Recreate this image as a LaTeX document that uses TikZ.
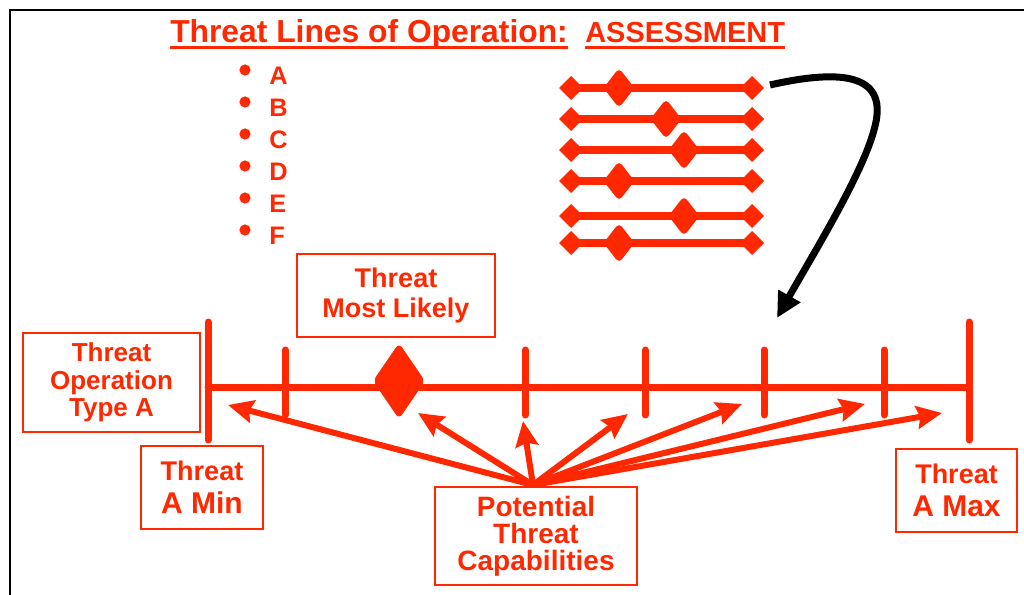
\documentclass[tikz,border=0pt]{standalone}
\usepackage{fontspec}
\setmainfont{Liberation Sans}
\usepackage{xcolor}
\usepackage{tikz}
\usetikzlibrary{arrows.meta}
\definecolor{thrred}{RGB}{255,40,0}
\newcommand{\myfnt}[2]{\bfseries\fontsize{#1}{#2}\selectfont}

\begin{document}
\begin{tikzpicture}[x=0.75pt,y=-0.75pt,nodes={text=thrred,inner sep=0pt},
  redbox/.style={draw=thrred,line width=1.1pt,align=center},
  axisline/.style={thrred,line width=5.25pt,line cap=round},
  capar/.style={thrred,line width=4.5pt,-{Stealth[length=19pt,width=17pt,inset=2.5pt]}}]
\useasboundingbox (0,0) rectangle (1024,595);
\draw[line width=1.5pt] (10,600) |- (1030,10); %frame, cut by the page
% title
\node[anchor=base west,font=\myfnt{23.85pt}{26pt}] (ttl) at (170,43) {Threat Lines of Operation:};
\node[anchor=base west,font=\myfnt{21.75pt}{24pt}] (asm) at (585,43) {ASSESSMENT};
\draw[thrred,line width=2.2pt] ([yshift=-3.3pt]ttl.base west) -- ([yshift=-3.3pt]ttl.base east);
\draw[thrred,line width=2.2pt] ([yshift=-3.3pt]asm.base west) -- ([yshift=-3.3pt]asm.base east);
% list of lines
\foreach \l [count=\i] in {A,B,C,D,E,F}{
\pgfmathsetmacro{\yb}{85+32*(\i-1)}
\fill[thrred] (245,\yb-15) circle (5.6);
\node[anchor=base west,font=\myfnt{19pt}{20pt}] (lbl\l) at (269,\yb) {\l};
}
% small lines with their diamonds
\foreach \yy/\dx in {88/619,119/666,150/684,181/619,216/684,243/619}{
\draw[thrred,line width=6pt] (565,\yy) -- (758,\yy);
\fill[thrred] (559,\yy) -- (571,\yy-12) -- (583,\yy) -- (571,\yy+12) -- cycle;
\fill[thrred] (740,\yy) -- (752,\yy-12) -- (764,\yy) -- (752,\yy+12) -- cycle;
\fill[thrred,rounded corners=3.5pt] (\dx,\yy-20) -- (\dx+15.5,\yy) -- (\dx,\yy+20) -- (\dx-15.5,\yy) -- cycle;
}
\coordinate (bstart) at (770,85);
\coordinate (bend) at (777,318);
\draw[line width=5.25pt,-{Triangle[length=19pt,width=18pt]}] (bstart) .. controls (845,68) and (890,75) .. (874,130) .. controls (862,175) and (812,256) .. (bend);
% main line
\coordinate (amin) at (208,387);
\coordinate (amax) at (969,387);
\draw[axisline] (amin) -- (amax);
\draw[axisline] (amin) ++(0,-65) -- ++(0,118);
\draw[axisline] (amax) ++(0,-65) -- ++(0,118);
\foreach \tx in {285,525,645,764,884}
\draw[axisline] (\tx,350) -- (\tx,415);
\fill[thrred,rounded corners=4pt] (399,343) -- (425,381) -- (399,419) -- (373,381) -- cycle;
% boxes
\node[redbox,minimum width=148.5pt,minimum height=62.25pt,font=\myfnt{20.25pt}{22.5pt}] (mlbox) at (396,295.5) {Threat\\Most Likely};
\node[redbox,minimum width=132.75pt,minimum height=74.25pt,font=\myfnt{19.5pt}{20.6pt}] (opbox) at (111.5,382.5) {Threat\\Operation\\Type A};
\node[redbox,minimum width=91.5pt,minimum height=62.25pt,font=\myfnt{20.25pt}{24.75pt}] (minbox) at (202,487.5) {Threat\\{\fontsize{22.5pt}{24.75pt}\selectfont A Min}};
\node[redbox,minimum width=90.75pt,minimum height=62.25pt,font=\myfnt{20.25pt}{24.75pt}] (maxbox) at (956.5,490.5) {Threat\\{\fontsize{22.5pt}{24.75pt}\selectfont A Max}};
\node[redbox,minimum width=151.5pt,minimum height=73.5pt,font=\myfnt{21pt}{20.25pt}] (capbox) at (536,536) {Potential\\Threat\\Capabilities};
% arrows out of the capabilities box
\coordinate (src) at (533,485);
\foreach \tx/\ty [count=\n] in {228/405,418/413,523/421,628/414,742/404,865/404,942/413}{
\coordinate (tip\n) at (\tx,\ty);
\draw[capar] (src) -- (tip\n);
}
\end{tikzpicture}
\end{document}
